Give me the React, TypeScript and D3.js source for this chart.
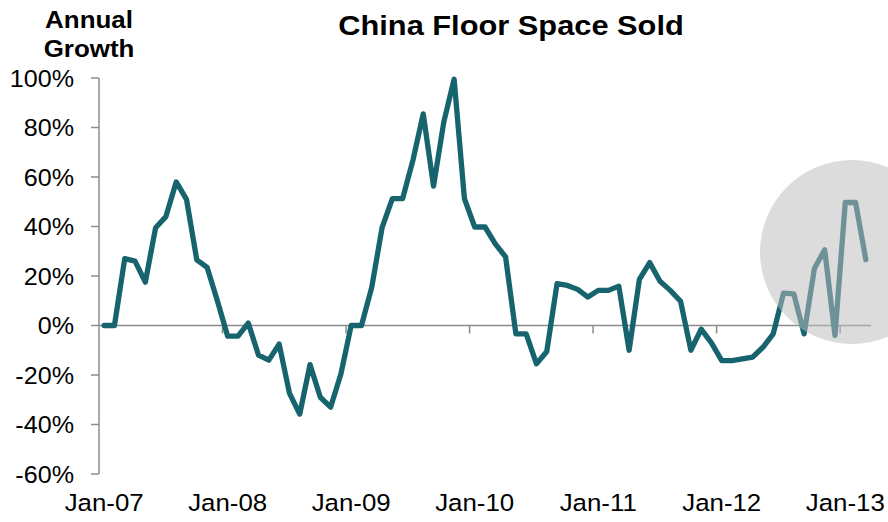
import React from "react";
import * as d3 from "d3";

const growth: number[] = [
  0, 0, 27, 26, 17.5, 39.5, 44, 58, 51, 26.5, 23.5, 10,
  -4.3, -4.3, 1, -12, -14, -7.5, -27.3, -35.8, -15.8, -29, -33, -19.6,
  0, 0, 15.5, 39.5, 51.3, 51.3, 66.8, 85.5, 56.3, 82.3, 99.5, 51.3,
  39.8, 39.8, 33, 27.7, -3.4, -3.4, -15.5, -10.5, 16.9, 16.2, 14.6, 11.5,
  14.2, 14.2, 15.9, -10, 18.6, 25.4, 17.9, 14.2, 9.8, -10, -1.5, -7,
  -14.2, -14.2, -13.5, -12.8, -8.8, -3.4, 13.1, 12.8, -3.4, 23, 30.6, -4,
  49.7, 49.7, 26.6,
];

const xTickLabels: string[] = ["Jan-07", "Jan-08", "Jan-09", "Jan-10", "Jan-11", "Jan-12", "Jan-13"];
const yTicks: number[] = [-60, -40, -20, 0, 20, 40, 60, 80, 100];

const W = 888;
const H = 522;
const left = 99;
const right = 871;
const top = 78;
const bottom = 474;

export default function App() {
  const n = growth.length;
  const x = d3.scaleLinear().domain([0, n]).range([left, right]);
  const y = d3.scaleLinear().domain([-60, 100]).range([bottom, top]);
  const line = d3
    .line<number>()
    .x((_, i) => x(i + 0.5))
    .y((d) => y(d));

  const axisColor = "#8c8c8c";
  const lineColor = "#17636e";
  const font = "Liberation Sans, Arial, sans-serif";
  const sx = 1.1;

  return (
    <svg
      width={W}
      height={H}
      style={{ position: "absolute", left: 0, top: 0, background: "#fff" }}
      fontFamily={font}
    >
      {/* title */}
      <text
        transform={`translate(511,35) scale(1.1,1)`}
        textAnchor="middle"
        fontWeight="bold"
        fontSize={28}
        fill="#000"
      >
        China Floor Space Sold
      </text>
      <text transform={`translate(89,28) scale(1.08,1)`} textAnchor="middle" fontWeight="bold" fontSize={24} fill="#000">
        Annual
      </text>
      <text transform={`translate(89,57) scale(1.08,1)`} textAnchor="middle" fontWeight="bold" fontSize={24} fill="#000">
        Growth
      </text>

      {/* y axis */}
      <line x1={left} x2={left} y1={y(100)} y2={y(-60)} stroke={axisColor} strokeWidth={1.5} />
      {yTicks.map((t) => (
        <g key={t}>
          <line x1={left - 8} x2={left} y1={y(t)} y2={y(t)} stroke={axisColor} strokeWidth={1.5} />
          <text
            transform={`translate(74,${y(t) + 8.5}) scale(1.07,1)`}
            textAnchor="end"
            fontSize={23.5}
            fill="#000"
          >
            {`${t}%`}
          </text>
        </g>
      ))}

      {/* x axis at zero */}
      <line x1={left} x2={right} y1={y(0)} y2={y(0)} stroke={axisColor} strokeWidth={1.5} />
      {xTickLabels.map((lab, k) => (
        <g key={lab}>
          {k > 0 && (
            <line x1={x(k * 12)} x2={x(k * 12)} y1={y(0)} y2={y(0) + 8} stroke={axisColor} strokeWidth={1.5} />
          )}
          <text
            transform={`translate(${x(k * 12 + 0.5)},${511}) scale(${sx},1)`}
            textAnchor="middle"
            fontSize={23.5}
            fill="#000"
          >
            {lab}
          </text>
        </g>
      ))}

      {/* series */}
      <path
        d={line(growth) ?? ""}
        fill="none"
        stroke={lineColor}
        strokeWidth={5.3}
        strokeLinejoin="round"
        strokeLinecap="round"
      />

      {/* highlight circle */}
      <circle cx={852} cy={252} r={92} fill="rgb(189,189,189)" fillOpacity={0.53} />
    </svg>
  );
}
